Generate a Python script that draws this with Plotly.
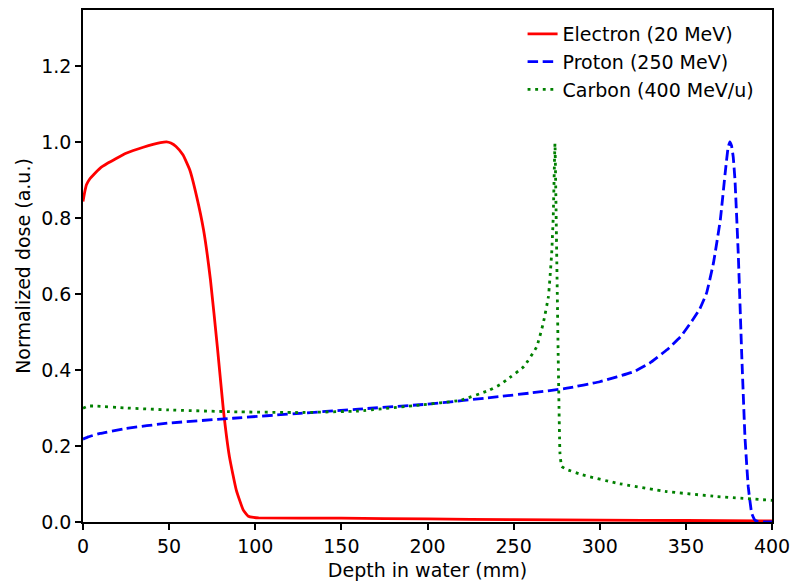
import plotly.graph_objects as go

# Electron (20 MeV)
e_depth = [0, 1, 2, 4, 6, 10, 14, 18, 25, 35, 45, 48.5, 51, 54, 58, 62, 66, 70, 74, 78, 81.5, 85, 89, 93, 96, 99, 102, 150, 200, 250, 300, 350, 400]
e_dose = [0.843, 0.868, 0.887, 0.903, 0.913, 0.931, 0.943, 0.953, 0.970, 0.986, 0.998, 1.0, 0.997, 0.988, 0.966, 0.926, 0.856, 0.768, 0.637, 0.461, 0.295, 0.172, 0.084, 0.032, 0.015, 0.012, 0.011, 0.010, 0.008, 0.006, 0.005, 0.004, 0.003]

# Proton (250 MeV)
p_depth = [0, 3, 10, 25, 49, 87, 126, 160, 200, 242, 261, 281, 300, 320, 329, 339, 347, 354, 358, 362, 366, 370, 373, 374.5, 375.5, 376.5, 377.5, 378.5, 380.4, 382.4, 384.3, 386.2, 388.2, 390, 392, 400]
p_dose = [0.218, 0.224, 0.233, 0.246, 0.260, 0.273, 0.286, 0.297, 0.310, 0.330, 0.340, 0.352, 0.369, 0.396, 0.418, 0.453, 0.488, 0.532, 0.560, 0.602, 0.681, 0.795, 0.926, 0.985, 1.0, 0.99, 0.96, 0.90, 0.707, 0.444, 0.224, 0.093, 0.023, 0.005, 0.001, 0.0]

# Carbon (400 MeV/u)
c_depth = [0, 3, 8, 25, 49, 87, 126, 160, 196, 219, 236, 242, 246, 256, 263.4, 267.2, 270.2, 272.1, 273, 274, 275, 276, 276.9, 277.9, 281, 290, 310, 339, 368, 400]
c_dose = [0.299, 0.305, 0.305, 0.300, 0.295, 0.290, 0.288, 0.292, 0.308, 0.320, 0.347, 0.361, 0.374, 0.409, 0.461, 0.523, 0.593, 0.707, 0.803, 0.996, 0.707, 0.400, 0.181, 0.146, 0.138, 0.124, 0.102, 0.080, 0.067, 0.057]

x_ticks = [0, 50, 100, 150, 200, 250, 300, 350, 400]
y_ticks = [0, 0.2, 0.4, 0.6, 0.8, 1.0, 1.2]
y_tick_text = ["0.0", "0.2", "0.4", "0.6", "0.8", "1.0", "1.2"]

font = "DejaVu Sans"
FS = 19
LW = 2.8
fig = go.Figure()
fig.add_trace(go.Scatter(x=e_depth, y=e_dose, mode="lines", name="Electron (20 MeV)",
                         line=dict(color="#ff0000", width=LW, shape="spline", smoothing=0.4), legendgroup="e"))
fig.add_trace(go.Scatter(x=p_depth, y=p_dose, mode="lines", name="Proton (250 MeV)",
                         line=dict(color="#0000ff", width=LW, dash="10.5px,4.6px", shape="spline", smoothing=0.3), legendgroup="p"))
fig.add_trace(go.Scatter(x=c_depth, y=c_dose, mode="lines", name="Carbon (400 MeV/u)",
                         line=dict(color="#008000", width=LW, dash="2.9px,4.7px", shape="spline", smoothing=0.3), legendgroup="c"))

axis_common = dict(showline=True, linecolor="black", linewidth=1.5, mirror=True,
                   ticks="outside", ticklen=6, tickwidth=1.5, tickcolor="black",
                   showgrid=False, zeroline=False, automargin=False,
                   tickfont=dict(family=font, size=FS, color="black"))
fig.update_xaxes(range=[0, 400], tickvals=x_ticks,
                 title=dict(text="Depth in water (mm)", font=dict(family=font, size=FS, color="black"), standoff=8),
                 **axis_common)
fig.update_yaxes(range=[0, 1.347], tickvals=y_ticks, ticktext=y_tick_text,
                 title=dict(text="Normalized dose (a.u.)", font=dict(family=font, size=FS, color="black"), standoff=6),
                 **axis_common)
fig.update_layout(
    width=794, height=586,
    margin=dict(l=83, r=22, t=10, b=64),
    plot_bgcolor="white", paper_bgcolor="white",
    font=dict(family=font, size=FS, color="black"),
    legend=dict(x=0.638, y=0.990, xanchor="left", yanchor="top", bgcolor="rgba(255,255,255,0)",
                traceorder="grouped", tracegroupgap=0, font=dict(family=font, size=FS, color="black")),
)
fig.write_html("out.html")
